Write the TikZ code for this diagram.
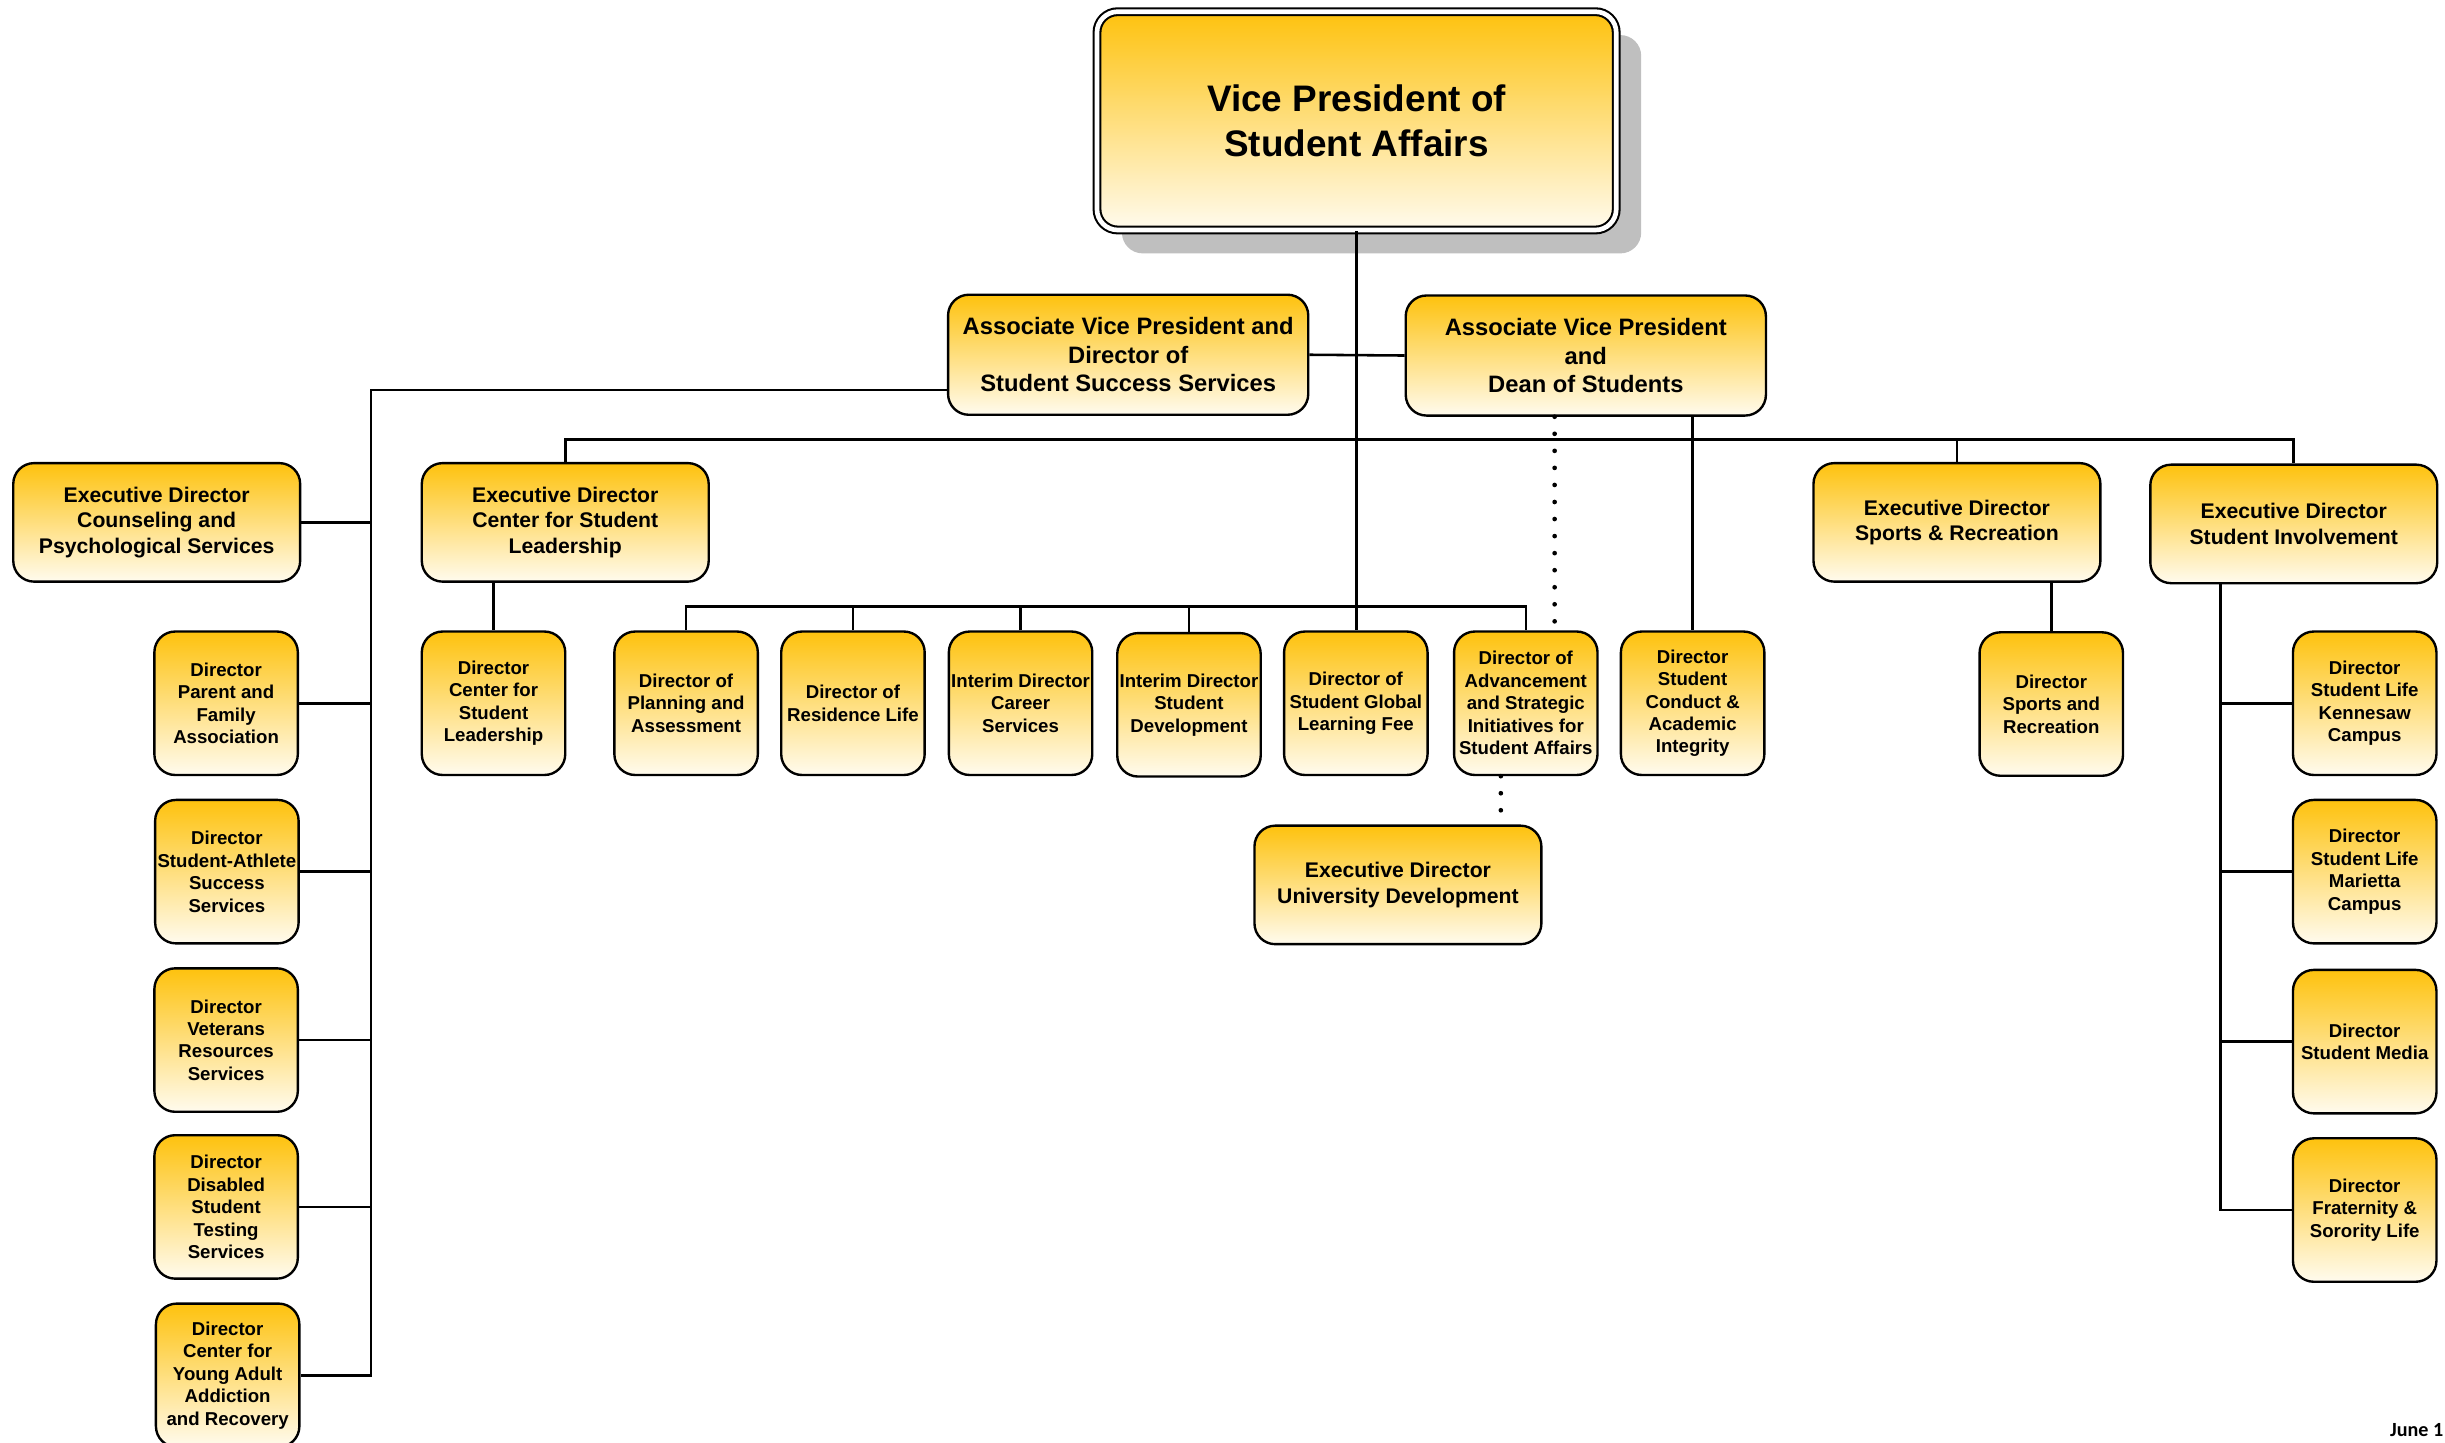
\documentclass[tikz,border=0pt]{standalone}
\usepackage{fontspec}
\setmainfont{Liberation Sans}
\newfontfamily\datefont{Carlito}
\usetikzlibrary{shadows}

\definecolor{kgold}{RGB}{254,194,14}
\definecolor{kcream}{RGB}{255,251,238}

\begin{document}
\begin{tikzpicture}[
        x=0.3mm, y=-0.3mm,
        line width=1.4pt,
        box/.style={
          rectangle,
          rounded corners=4mm,
          draw,
          line width=1.3pt,
          top color=kgold,
          bottom color=kcream,
          align=center,
          inner sep=0pt
        },
        head/.style={
          box,
          double,
          double distance=0.9mm,
          line width=0.4mm,
          minimum width=99.9mm,
          minimum height=42mm,
          drop shadow={shadow xshift=4.8mm, shadow yshift=-4.5mm, fill=black!25, opacity=1},
          font=\fontsize{20.2}{24.7}\selectfont\bfseries
        },
        avp/.style={
          box,
          minimum width=69.3mm,
          minimum height=23.1mm,
          font=\fontsize{13}{15.7}\selectfont\bfseries
        },
        exec/.style={
          box,
          minimum width=55.2mm,
          minimum height=22.8mm,
          font=\fontsize{11.6}{14}\selectfont\bfseries
        },
        office/.style={
          box,
          minimum width=27.6mm,
          minimum height=27.6mm,
          font=\fontsize{10.2}{12.3}\selectfont\bfseries
        },
        dots/.style={
          line width=0.9mm,
          line cap=round,
          dash pattern=on 0pt off 3.28mm
        }]
      \useasboundingbox (0,0) rectangle (1568,925);

      \node[head] (vp) at (870,77.5) {Vice President of\\Student Affairs};
      \node[avp] (avpss) at (723.5,227.5) {Associate Vice President and\\Director of\\Student Success Services};
      \node[avp] (avpdean) at (1017,228) {Associate Vice President\\and\\Dean of Students};

      \node[exec] (counsel) at (100.5,335) {Executive Director\\Counseling and\\Psychological Services};
      \node[exec] (execcsl) at (362.5,335) {Executive Director\\Center for Student\\Leadership};
      \node[exec] (execsports) at (1255,335) {Executive Director\\Sports \& Recreation};
      \node[exec] (execinv) at (1471,336) {Executive Director\\Student Involvement};
      \node[exec] (univdev) at (896.5,567.5) {Executive Director\\University Development};

      \node[office] (parent) at (145,451) {Director\\Parent and\\Family\\Association};
      \node[office] (athlete) at (145.5,559) {Director\\Student-Athlete\\Success\\Services};
      \node[office] (veterans) at (145,667) {Director\\Veterans\\Resources\\Services};
      \node[office] (disabled) at (145,774) {Director\\Disabled\\Student\\Testing\\Services};
      \node[office] (recovery) at (146,882) {Director\\Center for\\Young Adult\\Addiction\\and Recovery};

      \node[office] (dircsl) at (316.5,451) {Director\\Center for\\Student\\Leadership};
      \node[office] (planning) at (440,451) {Director of\\Planning and\\Assessment};
      \node[office] (residence) at (547,451) {Director of\\Residence Life};
      \node[office] (career) at (654.5,451) {Interim Director\\Career\\Services};
      \node[office] (studev) at (762.5,452) {Interim Director\\Student\\Development};
      \node[office] (globalfee) at (869.5,451) {Director of\\Student Global\\Learning Fee};
      \node[office] (advance) at (978.5,451) {Director of\\Advancement\\and Strategic\\Initiatives for\\Student Affairs};
      \node[office] (conduct) at (1085.5,451) {Director\\Student\\Conduct \&\\Academic\\Integrity};
      \node[office] (dirsports) at (1315.5,451.5) {Director\\Sports and\\Recreation};

      \node[office] (kennesaw) at (1516.5,451) {Director\\Student Life\\Kennesaw\\Campus};
      \node[office] (marietta) at (1516.5,559) {Director\\Student Life\\Marietta\\Campus};
      \node[office] (media) at (1516.5,668) {Director\\Student Media};
      \node[office] (greek) at (1516.5,776) {Director\\Fraternity \&\\Sorority Life};

      \coordinate (lspine) at (238,250);
      \coordinate (topbus) at (870,282);
      \coordinate (midbus) at (870,389);
      \coordinate (rspine) at (1424,375);

      \draw (vp.south) -- (vp.south |- globalfee.north);
      \draw (avpss.east) -- (avpdean.west);
      \draw (avpss.west |- lspine) -| (lspine |- recovery.east) -- (recovery.east);
      \foreach \n in {counsel,parent,athlete,veterans,disabled}
        \draw (\n.east) -- (\n.east -| lspine);
      \draw (execcsl.north) |- (topbus) -| (execinv.north);
      \draw (execsports.north) -- (execsports.north |- topbus);
      \draw (conduct.north |- avpdean.south) -- (conduct.north);
      \draw (dircsl.north |- execcsl.south) -- (dircsl.north);
      \draw (planning.north) |- (midbus) -| (advance.north);
      \foreach \n in {residence,career,studev}
        \draw (\n.north) -- (\n.north |- midbus);
      \draw (dirsports.north |- execsports.south) -- (dirsports.north);
      \draw (rspine |- execinv.south) |- (greek.west);
      \foreach \n in {kennesaw,marietta,media}
        \draw (\n.west -| rspine) -- (\n.west);

      \draw[dots] ([xshift=-6mm]avpdean.south) -- ([xshift=-6mm]avpdean.south |- advance.north);
      \draw[dots] ([xshift=-4.8mm]advance.south) -- ([xshift=-4.8mm]advance.south |- univdev.north);

      \node[anchor=base west, inner sep=0pt, font=\datefont\fontsize{11}{13}\selectfont\bfseries] (date) at (1532,921.5) {June 1};
\end{tikzpicture}
\end{document}
